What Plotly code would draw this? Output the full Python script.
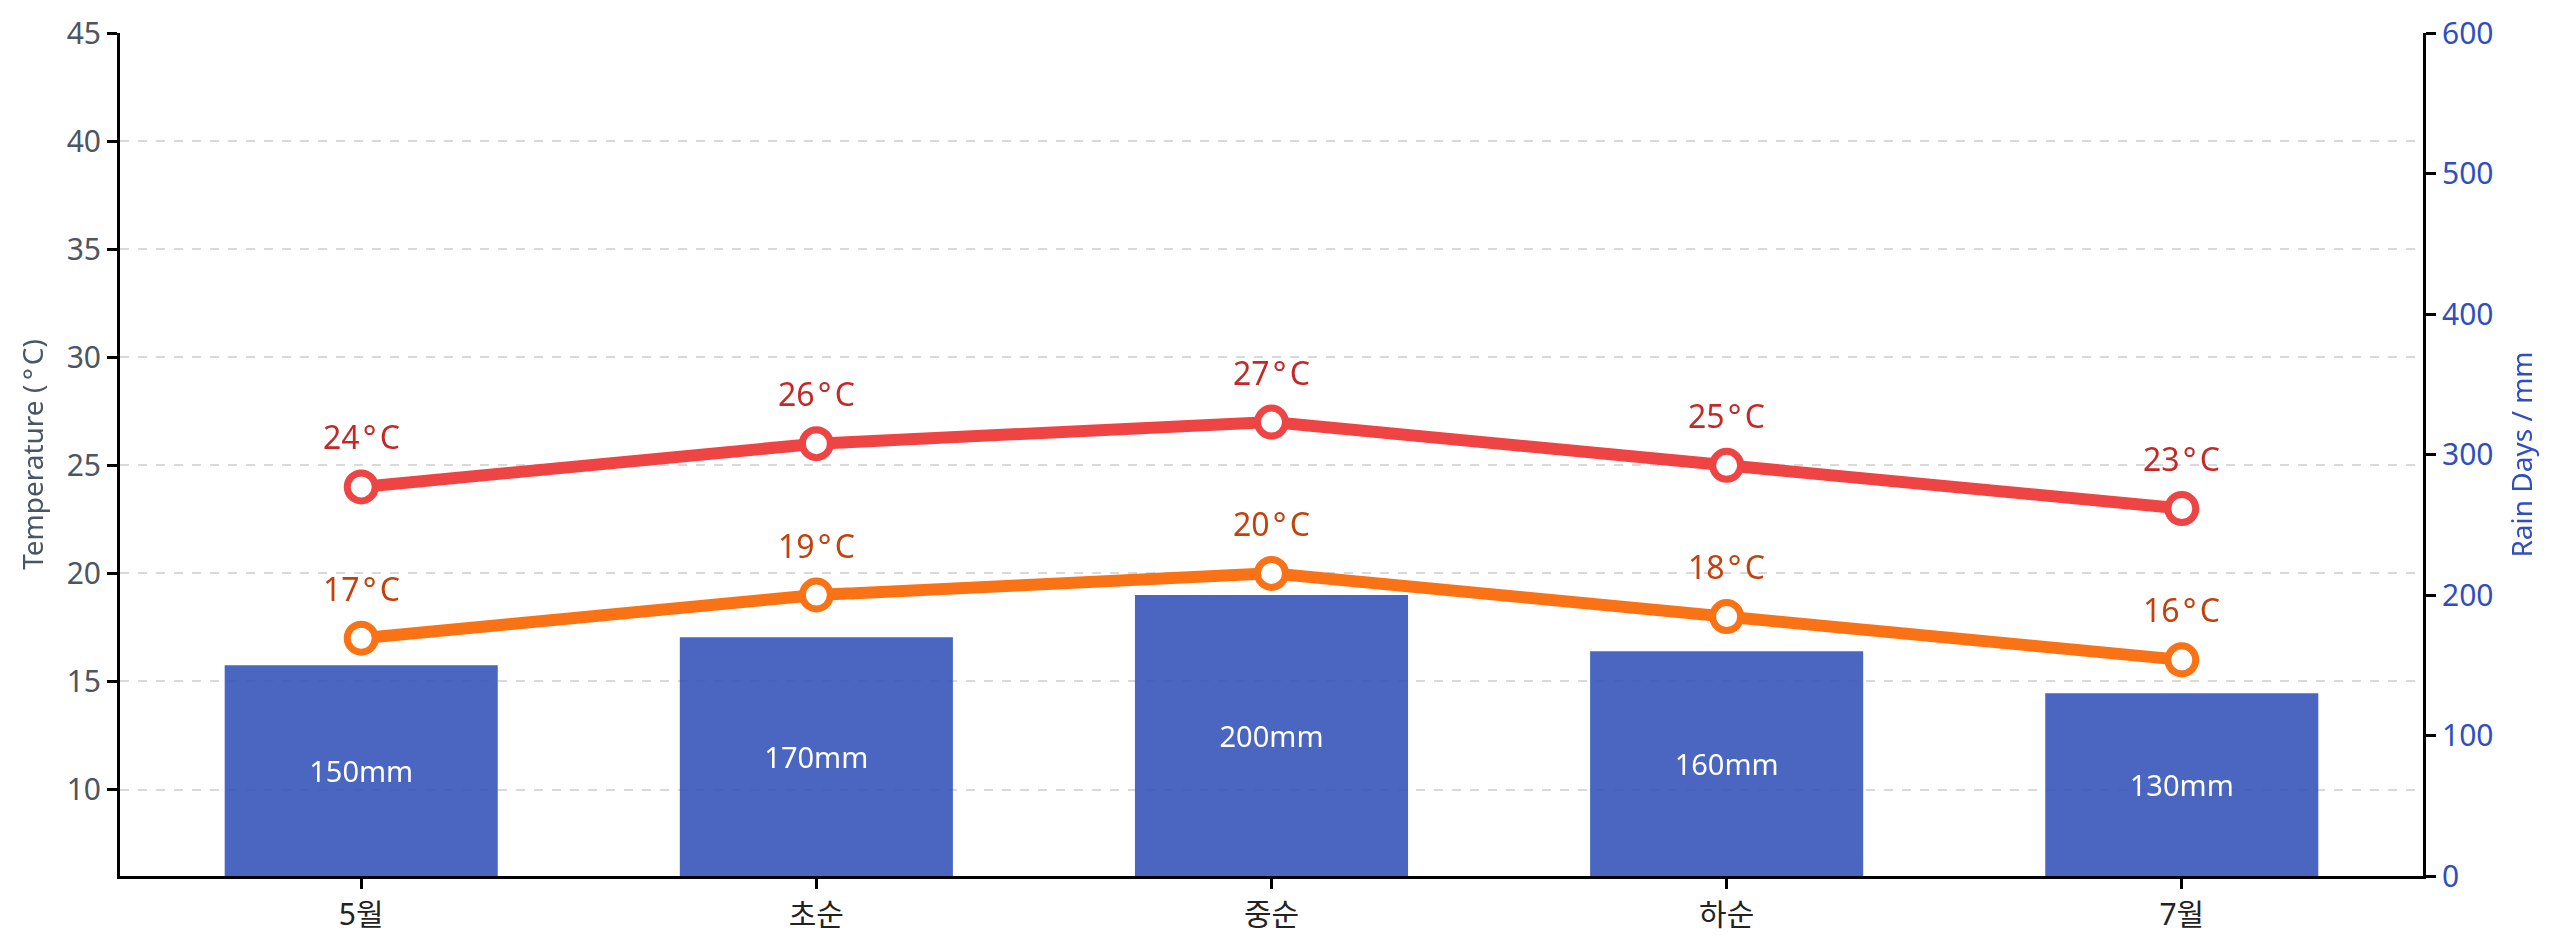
import plotly.graph_objects as go

# data
periods = ["5월", "초순", "중순", "하순", "7월"]
temp_high = [24, 26, 27, 25, 23]
temp_low = [17, 19, 20, 18, 16]
rain_mm = [150, 170, 200, 160, 130]

FONT = "Noto Sans, Noto Sans CJK KR, sans-serif"
RED = "#ef4444"
ORANGE = "#f97316"
BLUE = "#3655b9"
DEG = "\u200a°\u200aC"

fig = go.Figure()

# bars go on the base axis (right side) so the lines draw on top of them
fig.add_trace(go.Bar(
    x=periods, y=rain_mm, yaxis="y",
    marker=dict(color=BLUE, line=dict(width=0)),
    opacity=0.9, width=0.6,
    text=[f"{v}mm" for v in rain_mm],
    textposition="inside", insidetextanchor="middle",
    textfont=dict(family=FONT, size=29, color="white"),
    hoverinfo="x+y",
))

for vals, col in [(temp_high, RED), (temp_low, ORANGE)]:
    fig.add_trace(go.Scatter(
        x=periods, y=vals, yaxis="y2", mode="lines+markers",
        line=dict(color=col, width=12),
        marker=dict(size=28, color="white", line=dict(color=col, width=7)),
    ))

# value labels above the temperature points
annots = []
for vals, col in [(temp_high, "#c62828"), (temp_low, "#c2410c")]:
    for p, v in zip(periods, vals):
        annots.append(dict(x=p, y=v, xref="x", yref="y2", text=f"{v}{DEG}",
                           showarrow=False, yshift=50,
                           font=dict(family=FONT, size=32, color=col)))

# page body adds 8px, so margins are trimmed to land on the reference axes
fig.update_layout(
    width=2560, height=947,
    margin=dict(l=112, r=145, t=25, b=79),
    paper_bgcolor="white", plot_bgcolor="white",
    showlegend=False,
    font=dict(family=FONT),
    annotations=annots,
    xaxis=dict(
        range=[-0.53, 4.53], automargin=False,
        showline=True, linecolor="black", linewidth=3,
        ticks="outside", ticklen=10, tickwidth=3, tickcolor="black",
        tickfont=dict(size=30, color="#222222"),
        showgrid=False, zeroline=False,
    ),
    yaxis=dict(
        side="right", range=[0, 600], dtick=100, tick0=0, automargin=False,
        showline=True, linecolor="black", linewidth=3,
        ticks="outside", ticklen=10, tickwidth=3, tickcolor="black",
        tickfont=dict(size=30, color="#2f4fbf"),
        title=dict(text="Rain Days / mm", font=dict(size=28, color="#2f4fbf"), standoff=20),
        showgrid=False, zeroline=False,
    ),
    yaxis2=dict(
        side="left", overlaying="y", anchor="x", automargin=False,
        range=[6, 45], dtick=5, tick0=0,
        showline=True, linecolor="black", linewidth=3,
        ticks="outside", ticklen=10, tickwidth=3, tickcolor="black",
        tickfont=dict(size=30, color="#4b5563"),
        title=dict(text="Temperature (\u2009°\u200aC)", font=dict(size=28, color="#4b5563"), standoff=15),
        showgrid=True, gridcolor="#d9d9d9", gridwidth=2, griddash="dash",
        zeroline=False,
    ),
)

fig.write_html("out.html")
